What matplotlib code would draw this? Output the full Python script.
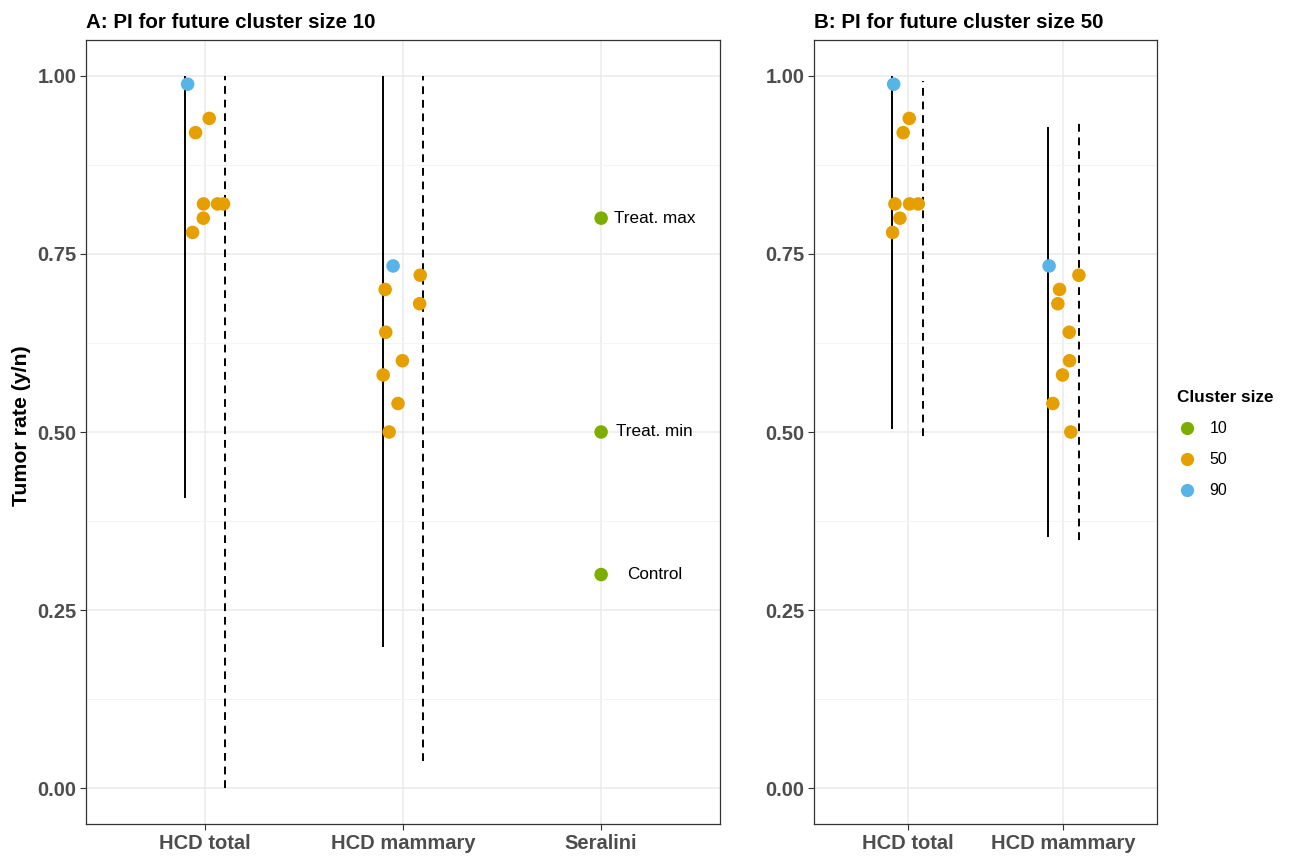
import matplotlib.pyplot as plt
from matplotlib.lines import Line2D

plt.rcParams['font.family'] = ['Liberation Sans', 'DejaVu Sans']

# colours for the cluster sizes
size_colors = {10: '#7CAE00', 50: '#E69F00', 90: '#56B4E9'}

# ---- panel A: future cluster size 10 ----
a_cats = ['HCD total', 'HCD mammary', 'Seralini']

a_total_rate = [0.988, 0.94, 0.92, 0.82, 0.82, 0.82, 0.80, 0.78]
a_total_size = [90, 50, 50, 50, 50, 50, 50, 50]
a_total_jit = [-0.087, 0.022, -0.047, -0.007, 0.064, 0.094, -0.008, -0.062]

a_mam_rate = [0.733, 0.72, 0.70, 0.68, 0.64, 0.60, 0.58, 0.54, 0.50]
a_mam_size = [90, 50, 50, 50, 50, 50, 50, 50, 50]
a_mam_jit = [-0.05, 0.087, -0.09, 0.084, -0.087, -0.003, -0.10, -0.025, -0.07]

ser_rate = [0.80, 0.50, 0.30]
ser_size = [10, 10, 10]
ser_labels = ['Treat. max', 'Treat. min', 'Control']

# prediction intervals: (lower, upper) for the two methods
a_pi_solid = [(0.407, 1.0), (0.199, 1.0)]
a_pi_dashed = [(0.0, 1.0), (0.039, 1.0)]

# ---- panel B: future cluster size 50 ----
b_cats = ['HCD total', 'HCD mammary']

b_total_rate = [0.988, 0.94, 0.92, 0.82, 0.82, 0.82, 0.80, 0.78]
b_total_size = [90, 50, 50, 50, 50, 50, 50, 50]
b_total_jit = [-0.089, 0.011, -0.028, -0.081, 0.013, 0.069, -0.049, -0.096]

b_mam_rate = [0.733, 0.72, 0.70, 0.68, 0.64, 0.60, 0.58, 0.54, 0.50]
b_mam_size = [90, 50, 50, 50, 50, 50, 50, 50, 50]
b_mam_jit = [-0.092, 0.099, -0.025, -0.036, 0.037, 0.039, -0.006, -0.068, 0.047]

b_pi_solid = [(0.504, 1.0), (0.353, 0.928)]
b_pi_dashed = [(0.494, 0.993), (0.348, 0.934)]

fig = plt.figure(figsize=(12.9, 8.56), dpi=100)
axA = fig.add_axes([86/1290, 32/856, 634/1290, 784/856])
axB = fig.add_axes([814/1290, 32/856, 343/1290, 784/856])


def style_axis(ax, cats, title):
    ax.set_xlim(0.4, len(cats) + 0.6)
    ax.set_ylim(-0.05, 1.05)
    ax.set_xticks(range(1, len(cats) + 1))
    ax.set_xticklabels(cats, fontsize=14.5, fontweight='bold', color='#4D4D4D')
    ax.set_yticks([0, 0.25, 0.5, 0.75, 1.0])
    ax.set_yticklabels(['0.00', '0.25', '0.50', '0.75', '1.00'],
                       fontsize=14.5, fontweight='bold', color='#4D4D4D')
    ax.set_yticks([0.125, 0.375, 0.625, 0.875], minor=True)
    ax.grid(True, which='major', color='#EBEBEB', linewidth=1.1, zorder=0)
    ax.grid(True, which='minor', axis='y', color='#F3F3F3', linewidth=0.6, zorder=0)
    ax.tick_params(which='major', length=4, width=0.8, color='#333333', pad=3)
    ax.tick_params(which='minor', length=0)
    ax.set_axisbelow(True)
    for s in ax.spines.values():
        s.set_color('#333333')
        s.set_linewidth(0.9)
    ax.set_title(title, loc='left', fontsize=14.8, fontweight='bold', pad=9)


def draw_group(ax, xpos, rates, sizes, jit, solid, dashed):
    ax.vlines(xpos - 0.1, solid[0], solid[1], color='black', linewidth=1.4, zorder=2)
    ax.vlines(xpos + 0.1, dashed[0], dashed[1], color='black', linewidth=1.4,
              linestyles=(0, (4, 3)), zorder=2)
    ax.scatter([xpos + j for j in jit], rates, s=95,
               c=[size_colors[k] for k in sizes], edgecolors='none', zorder=3)


draw_group(axA, 1, a_total_rate, a_total_size, a_total_jit, a_pi_solid[0], a_pi_dashed[0])
draw_group(axA, 2, a_mam_rate, a_mam_size, a_mam_jit, a_pi_solid[1], a_pi_dashed[1])
axA.scatter([3] * len(ser_rate), ser_rate, s=95,
            c=[size_colors[k] for k in ser_size], edgecolors='none', zorder=3)
for r, lab in zip(ser_rate, ser_labels):
    axA.text(3.27, r, lab, ha='center', va='center', fontsize=12.3, color='black')
style_axis(axA, a_cats, 'A: PI for future cluster size 10')
axA.set_ylabel('Tumor rate (y/n)', fontsize=15.3, fontweight='bold')
axA.yaxis.set_label_coords(-0.086, 0.508)

draw_group(axB, 1, b_total_rate, b_total_size, b_total_jit, b_pi_solid[0], b_pi_dashed[0])
draw_group(axB, 2, b_mam_rate, b_mam_size, b_mam_jit, b_pi_solid[1], b_pi_dashed[1])
style_axis(axB, b_cats, 'B: PI for future cluster size 50')

handles = [Line2D([], [], marker='o', linestyle='none', markersize=9.5,
                  markerfacecolor=size_colors[k], markeredgecolor='none')
           for k in (10, 50, 90)]
leg = fig.legend(handles, ['10', '50', '90'], title='Cluster size',
                 loc='upper left', bbox_to_anchor=(1163/1290, 1 - 376/856),
                 frameon=False, fontsize=11.5, title_fontsize=12.3,
                 labelspacing=1.0, handletextpad=0.8, handlelength=1.2,
                 alignment='left')
leg.get_title().set_fontweight('bold')

fig.savefig('out.png', dpi=100)
